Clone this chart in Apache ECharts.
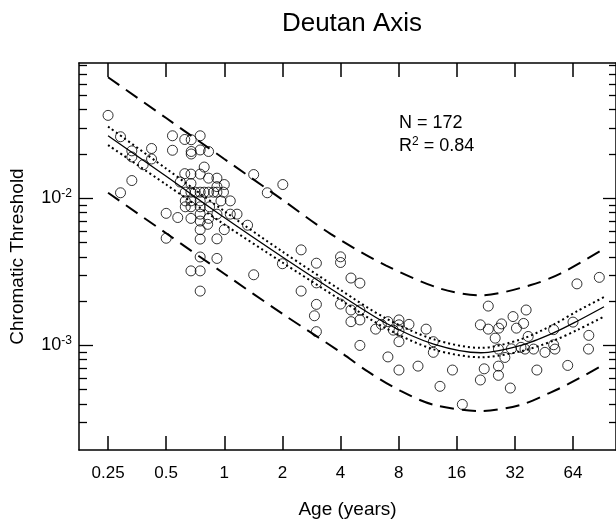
<!DOCTYPE html>
<html>
<head>
<meta charset="utf-8">
<script src="https://cdn.jsdelivr.net/npm/echarts@6/dist/echarts.min.js"></script>
<style>
  html, body { margin: 0; background: #fff; }
  #chart { width: 616px; height: 524px; }
</style>
</head>
<body>
<div id="chart"></div>
<script>
// measured points: age (years) and chromatic threshold
var ages = [
  0.25, 0.29, 0.332, 0.332, 0.42, 0.42, 0.38, 0.332, 0.29, 0.539,
  0.539, 0.624, 0.624, 0.5, 0.574, 0.5, 0.674, 0.75, 0.674, 0.674,
  0.75, 0.829, 0.787, 0.672, 0.75, 0.829, 0.916, 1.0, 0.916, 0.672,
  0.591, 0.628, 0.672, 0.707, 0.75, 0.787, 0.829, 0.88, 0.916, 0.99,
  0.628, 0.672, 0.75, 0.961, 1.074, 0.628, 0.672, 0.75, 0.839, 0.75,
  0.916, 1.074, 1.164, 0.672, 0.829, 0.82, 0.75, 0.75, 1.0, 1.32,
  0.75, 0.916, 0.75, 0.916, 0.672, 0.75, 1.42, 0.75, 1.42, 1.67,
  2.01, 2.5, 2.0, 3.0, 2.5, 3.0, 3.0, 2.93, 3.0, 4.0,
  4.0, 4.0, 4.53, 5.04, 4.53, 5.04, 4.53, 5.04, 5.04, 6.08,
  6.51, 7.04, 7.04, 8.03, 8.03, 8.03, 7.51, 8.03, 8.03, 9.05,
  10.08, 11.1, 12.1, 12.1, 13.1, 15.2, 17.1, 21.2, 23.3, 23.3,
  22.2, 21.2, 25.3, 26.4, 27.3, 26.3, 26.3, 26.3, 28.4, 30.3,
  31.3, 32.6, 35.5, 36.6, 34.4, 37.5, 40.0, 30.7, 41.6, 45.8,
  50.8, 51.6, 50.8, 60.1, 64, 67.1, 87.6, 77.3, 77.0, 36.1
];
var thresholds = [
  0.0366, 0.0262, 0.0210, 0.0191, 0.0218, 0.0185, 0.0169, 0.0132, 0.0109, 0.0266,
  0.0212, 0.0251, 0.0147, 0.0079, 0.0074, 0.00535, 0.0250, 0.0266, 0.0208, 0.0200,
  0.0213, 0.0208, 0.0163, 0.0146, 0.0146, 0.0137, 0.0137, 0.0124, 0.0120, 0.0126,
  0.0129, 0.0110, 0.0110, 0.0110, 0.0110, 0.0110, 0.0110, 0.0110, 0.0110, 0.0110,
  0.0096, 0.0096, 0.0096, 0.0096, 0.0096, 0.00875, 0.00875, 0.00875, 0.00875, 0.0078,
  0.0078, 0.0078, 0.0078, 0.0073, 0.0073, 0.00665, 0.0070, 0.00612, 0.00612, 0.00656,
  0.00528, 0.0053, 0.00399, 0.0039, 0.00321, 0.00321, 0.00302, 0.00234, 0.0145, 0.0109,
  0.0124, 0.00446, 0.00359, 0.00362, 0.00234, 0.00266, 0.0019, 0.00159, 0.00124, 0.0040,
  0.00366, 0.00191, 0.00287, 0.00265, 0.00174, 0.00174, 0.00145, 0.00149, 0.0010, 0.00129,
  0.00139, 0.00145, 0.000835, 0.00149, 0.00138, 0.00126, 0.00127, 0.00106, 0.00068, 0.00139,
  0.000723, 0.00129, 0.00106, 0.000897, 0.000527, 0.00068, 0.000397, 0.00138, 0.00185, 0.00129,
  0.000693, 0.000582, 0.00112, 0.00131, 0.0014, 0.000944, 0.000723, 0.000626, 0.000828, 0.000513,
  0.00157, 0.00131, 0.00141, 0.00174, 0.00097, 0.00115, 0.000944, 0.000948, 0.00068, 0.000897,
  0.00128, 0.000944, 0.00101, 0.000731, 0.00144, 0.00262, 0.0029, 0.00117, 0.000944, 0.000944
];

// fitted curve and its confidence band
var fitAges = [0.25, 0.5, 1, 2, 4, 6.85, 12.15, 21.3, 34.4, 51, 67.9, 92.7];
var fitMean = [0.0266, 0.0141, 0.0074, 0.00399, 0.0022, 0.00142, 0.00102, 0.000891, 0.0010, 0.00122, 0.00147, 0.00183];
var fitHigh = [0.0307, 0.0159, 0.00818, 0.00434, 0.00238, 0.00153, 0.0011, 0.000962, 0.0011, 0.00139, 0.00172, 0.00213];
var fitLow = [0.0230, 0.0124, 0.00664, 0.00366, 0.00204, 0.00131, 0.00094, 0.00083, 0.000912, 0.00108, 0.00128, 0.00157];

// prediction band (dashed)
var upperAges = [0.25, 0.5, 1, 2, 3.55, 6.85, 13.2, 21.3, 38.7, 55.4, 91.6];
var upperBand = [0.0665, 0.0351, 0.0185, 0.00977, 0.00573, 0.0035, 0.00243, 0.00219, 0.00257, 0.00309, 0.0045];
var lowerAges = [0.25, 0.5, 1, 2, 4, 5.53, 8.19, 12.15, 21.3, 34.4, 49.2, 60.3, 92.7];
var lowerBand = [0.0109, 0.00578, 0.00307, 0.00164, 0.00090, 0.000665, 0.000490, 0.000395, 0.000358, 0.000395, 0.000480, 0.000545, 0.000741];

var xTicks = [0.25, 0.5, 1, 2, 4, 8, 16, 32, 64];
var yMajor = [0.001, 0.01];
var yMinor = [
  3e-4, 4e-4, 5e-4, 6e-4, 7e-4, 8e-4, 9e-4,
  2e-3, 3e-3, 4e-3, 5e-3, 6e-3, 7e-3, 8e-3, 9e-3,
  2e-2, 3e-2, 4e-2, 5e-2, 6e-2, 7e-2, 8e-2
];

(function () {
    var font = 'Liberation Sans, Arial, sans-serif';
    var black = '#000';
    var xMin = -2.5, xMax = 6.74;
    var yMin = -3.711, yMax = -1.0805;

    function toLog(xs, ys) {
        return xs.map(function (x, i) { return [Math.log2(x), Math.log10(ys[i])]; });
    }

    function xAxis(pos, withLabels) {
        return {
            type: 'value', position: pos, min: xMin, max: xMax,
            axisLine: { show: true, onZero: false, lineStyle: { color: black, width: 1.5 } },
            axisTick: { show: true, inside: true, length: 14, customValues: xTicks.map(Math.log2),
                lineStyle: { color: black, width: 1.5 } },
            axisLabel: withLabels ? {
                show: true, customValues: xTicks.map(Math.log2), margin: 15,
                fontSize: 17, fontFamily: font, color: black,
                formatter: function (v) { return String(+Math.pow(2, v).toFixed(2)); }
            } : { show: false },
            splitLine: { show: false },
            name: withLabels ? 'Age (years)' : '',
            nameLocation: 'middle', nameGap: 50,
            nameTextStyle: { fontSize: 19, fontFamily: font, color: black }
        };
    }

    function yAxis(pos, ticks, len, major, withLabels) {
        return {
            type: 'value', position: pos, min: yMin, max: yMax,
            axisLine: { show: major, onZero: false, lineStyle: { color: black, width: 1.5 } },
            axisTick: { show: true, inside: true, length: len, customValues: ticks.map(Math.log10),
                lineStyle: { color: black, width: 1.3 } },
            axisLabel: withLabels ? {
                show: true, customValues: yMajor.map(Math.log10), margin: 7,
                formatter: function (v) { return '{b|10}{s|' + Math.round(v) + '}'; },
                rich: {
                    b: { fontSize: 18, fontFamily: font, color: black },
                    s: { fontSize: 12, fontFamily: font, color: black, padding: [0, 0, 9, 0], verticalAlign: 'bottom' }
                }
            } : { show: false },
            splitLine: { show: false },
            name: withLabels ? 'Chromatic Threshold' : '',
            nameLocation: 'middle', nameGap: 52,
            nameTextStyle: { fontSize: 19, fontFamily: font, color: black }
        };
    }

    function curve(xs, ys, type, width) {
        return {
            type: 'line', data: toLog(xs, ys), smooth: 0.3,
            symbol: 'none', silent: true,
            lineStyle: { color: black, width: width, type: type }, z: 2
        };
    }

    var option = {
        animation: false,
        backgroundColor: '#fff',
        title: {
            text: 'Deutan Axis', left: 347, top: 6, textAlign: 'center',
            textStyle: { fontSize: 26, fontWeight: 'normal', fontFamily: font, color: black }
        },
        grid: { left: 79, top: 63, right: 0, bottom: 69, containLabel: false },
        xAxis: [xAxis('bottom', true), xAxis('top', false)],
        yAxis: [
            yAxis('left', yMajor, 14, true, true),
            yAxis('left', yMinor, 8, false, false),
            yAxis('right', yMajor, 13, true, false),
            yAxis('right', yMinor, 7, false, false)
        ],
        graphic: [
            { type: 'text', left: 399, top: 114,
              style: { text: 'N = 172', font: '18px ' + font, fill: black } },
            { type: 'text', left: 399, top: 136,
              style: {
                  text: '{a|R}{s|2}{a| = 0.84}',
                  rich: {
                      a: { fontSize: 18, fontFamily: font, fill: black },
                      s: { fontSize: 12, fontFamily: font, fill: black, padding: [0, 0, 8, 0], verticalAlign: 'bottom' }
                  }
              } }
        ],
        series: [
            curve(upperAges, upperBand, [14, 8], 2),
            curve(lowerAges, lowerBand, [14, 8], 2),
            curve(fitAges, fitHigh, [2, 3], 2),
            curve(fitAges, fitLow, [2, 3], 2),
            curve(fitAges, fitMean, 'solid', 1.3),
            {
                type: 'scatter', data: toLog(ages, thresholds), symbol: 'circle', symbolSize: 10,
                itemStyle: { color: 'rgba(0,0,0,0)', borderColor: black, borderWidth: 1 }, z: 3
            }
        ]
    };

    var myChart = echarts.init(document.getElementById('chart'));
    myChart.setOption(option);
})();
</script>
</body>
</html>
